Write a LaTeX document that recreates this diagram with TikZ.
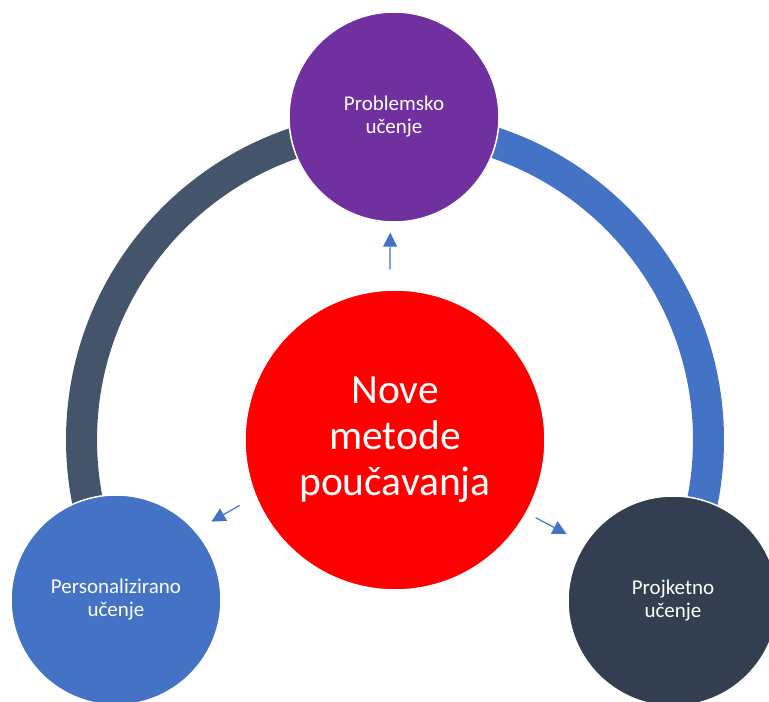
\documentclass[tikz,border=0pt]{standalone}
\usepackage{fontspec}
\setmainfont{Carlito}
\usetikzlibrary{arrows.meta}
\definecolor{purp}{HTML}{7030A0}
\definecolor{blu}{HTML}{4472C4}
\definecolor{slate}{HTML}{44546A}
\definecolor{navy}{HTML}{333F50}
\begin{document}
\begin{tikzpicture}[x=1pt, y=1pt,
  bubble/.style={circle, draw=white, line width=1.5pt, text=white, align=center,
    minimum size=210pt, inner sep=0pt, font=\fontsize{21}{23}\selectfont},
  band/.style={line width=31pt},
  pointer/.style={-{Triangle[length=14pt,width=14pt]}, blu, line width=1.2pt}]
  \useasboundingbox (0,0) rectangle (769,702);
  \coordinate (hub) at (395,262);
  \draw[band, slate] (hub) ++(90:313.5) arc (90:210:313.5);
  \draw[band, blu] (hub) ++(90:313.5) arc (90:-30:313.5);
  \node[bubble, fill=red, minimum size=300pt, font=\fontsize{41.5}{46}\selectfont] (nove) at (hub) {Nove\\metode\\poučavanja};
  \node[bubble, fill=purp] (probl) at (394,585) {Problemsko\\učenje};
  \node[bubble, fill=blu] (pers) at (116,102) {Personalizirano\\učenje};
  \node[bubble, fill=navy] (proj) at (673,101) {Projketno\\učenje};
  \draw[pointer, shorten <=20pt, shorten >=10pt] (nove.92) -- (probl.268);
  \draw[pointer, shorten <=18pt, shorten >=18pt] (nove.202) -- (pers.41);
  \draw[pointer, shorten <=10pt, shorten >=20pt] (nove.331) -- (proj.147);
\end{tikzpicture}
\end{document}
